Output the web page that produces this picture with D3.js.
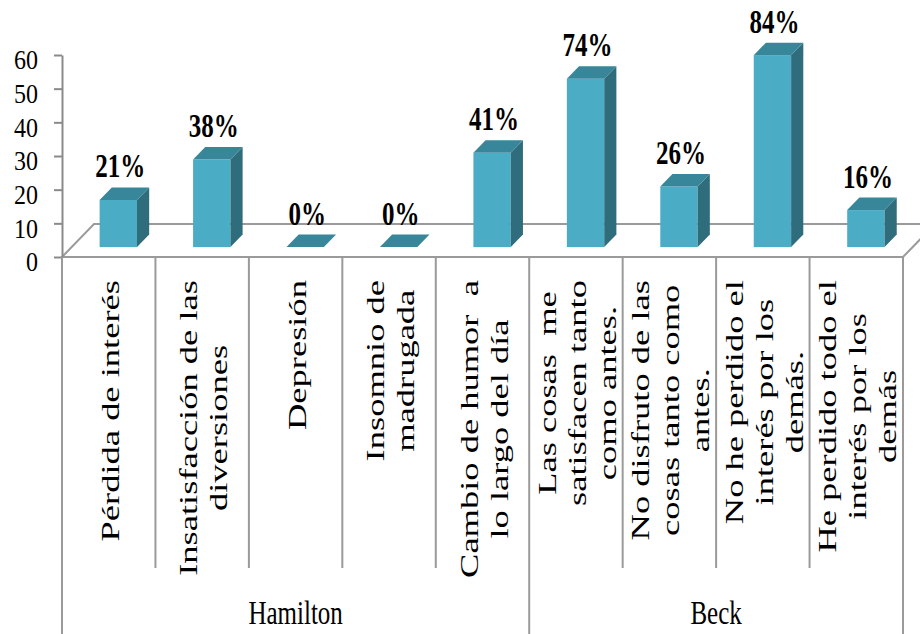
<!DOCTYPE html>
<html>
<head>
<meta charset="utf-8">
<script src="https://cdn.jsdelivr.net/npm/d3@7"></script>
<style>
    body { margin: 0; background: #fff; }
</style>
</head>
<body>
<script>

    // category labels, one array of lines per bar
    var categories = [
        ["Pérdida de interés"],
        ["Insatisfacción de las", "diversiones"],
        ["Depresión"],
        ["Insomnio de", "madrugada"],
        ["Cambio de humor  a", "lo largo del día"],
        ["Las cosas  me", "satisfacen tanto", "como antes."],
        ["No disfruto de las", "cosas tanto como", "antes."],
        ["No he perdido el", "interés por los", "demás."],
        ["He perdido todo el", "interés por los", "demás"]
    ];
    var values = [14, 26, 0, 0, 28, 50, 18, 57, 11];
    var pctLabels = ["21%", "38%", "0%", "0%", "41%", "74%", "26%", "84%", "16%"];
    var groupNames = ["Hamilton", "Beck"];
    var groupStarts = [0, 5];
    var groupEnds = [5, 9];
    var yTicks = [0, 10, 20, 30, 40, 50, 60];

    var width = 920,
        height = 634;
    var left = 62, right = 903, floorY = 257, topY = 55;
    var depth = {x: 32, y: -33};       // floor depth (oblique projection)
    var barFront = 0.3, barBack = 0.68; // bar position inside the floor depth
    var stretch = 1.33;                 // text is drawn tall and narrow
    var serif = '"Liberation Serif", "Times New Roman", serif';

    var svg = d3.select("body").append("svg")
        .attr("width", width)
        .attr("height", height);

    var x = d3.scaleBand()
        .domain(d3.range(categories.length))
        .range([left, right]);

    var y = d3.scaleLinear()
        .domain([0, 60])
        .range([floorY, topY]);

    // floor
    svg.append("polygon")
        .attr("points", [
            [left, floorY], [right, floorY],
            [right + depth.x, floorY + depth.y], [left + depth.x, floorY + depth.y]
        ].join(" "))
        .style("fill", "none")
        .style("stroke", "#9a9a9a")
        .style("stroke-width", 2);

    // separators of the category labels
    svg.append("g").selectAll("line")
        .data(d3.range(categories.length + 1))
        .enter().append("line")
        .attr("x1", function (i) { return i < categories.length ? x(i) : right; })
        .attr("x2", function (i) { return i < categories.length ? x(i) : right; })
        .attr("y1", floorY)
        .attr("y2", function (i) {
            return (groupStarts.indexOf(i) >= 0 || i === categories.length) ? height : 568;
        })
        .style("stroke", "#9a9a9a")
        .style("stroke-width", 2);

    // y axis
    var yAxis = d3.axisLeft(y)
        .tickValues(yTicks)
        .tickSize(8)
        .tickSizeOuter(0)
        .tickPadding(16);

    var ag = svg.append("g")
        .attr("transform", "translate(" + left + ",0)")
        .call(yAxis)
        .attr("font-family", null)
        .attr("font-size", null);
    ag.select(".domain").style("stroke", "#8a8a8a").style("stroke-width", 2);
    ag.selectAll(".tick line").style("stroke", "#8a8a8a").style("stroke-width", 2);
    ag.selectAll(".tick text")
        .style("font-family", serif)
        .style("font-size", "24px")
        .style("fill", "#000")
        .attr("dy", "0.5em")
        .attr("transform", "scale(1,1.15)");

    svg.append("line")
        .attr("x1", left).attr("x2", left)
        .attr("y1", floorY).attr("y2", height)
        .style("stroke", "#9a9a9a")
        .style("stroke-width", 2);

    // bars
    var barW = x.bandwidth() * 0.4;
    var bd = {x: depth.x * (barBack - barFront), y: depth.y * (barBack - barFront)};

    var bars = svg.append("g").selectAll("g")
        .data(values)
        .enter().append("g");

    function geom(v, i) {
        var x0 = x(i) + (x.bandwidth() - barW) / 2 + depth.x * barFront;
        return {
            x0: x0,
            x1: x0 + barW,
            yt: y(v) + depth.y * barFront,
            yb: floorY + depth.y * barFront
        };
    }

    bars.append("rect")
        .attr("x", function (d, i) { return geom(d, i).x0; })
        .attr("y", function (d, i) { return geom(d, i).yt; })
        .attr("width", barW)
        .attr("height", function (d, i) { var g = geom(d, i); return g.yb - g.yt; })
        .style("fill", "#4bacc6");

    bars.append("polygon")
        .attr("points", function (d, i) {
            var g = geom(d, i);
            return [[g.x1, g.yt], [g.x1 + bd.x, g.yt + bd.y], [g.x1 + bd.x, g.yb + bd.y], [g.x1, g.yb]].join(" ");
        })
        .style("fill", "#2f6c7c");

    bars.append("polygon")
        .attr("points", function (d, i) {
            var g = geom(d, i);
            return [[g.x0, g.yt], [g.x1, g.yt], [g.x1 + bd.x, g.yt + bd.y], [g.x0 + bd.x, g.yt + bd.y]].join(" ");
        })
        .style("fill", "#37869a");

    // value labels
    bars.append("text")
        .attr("transform", function (d, i) {
            var g = geom(d, i);
            return "translate(" + ((g.x0 + g.x1) / 2 + 2) + "," + (g.yt + bd.y - 10) + ") scale(1," + stretch + ")";
        })
        .attr("text-anchor", "middle")
        .style("font-family", serif)
        .style("font-size", "25px")
        .style("font-weight", "bold")
        .text(function (d, i) { return pctLabels[i]; });

    // rotated category labels
    var along = 1.46, lineGap = 30, labelTop = 280;
    categories.forEach(function (lines, i) {
        var cx = x(i) + x.bandwidth() / 2;
        var n = lines.length;
        var texts = lines.map(function (t, j) {
            return svg.append("text")
                .attr("text-anchor", "middle")
                .style("font-family", serif)
                .style("font-size", "25px")
                .style("white-space", "pre")
                .text(t);
        });
        var maxLen = d3.max(texts, function (t) { return t.node().getComputedTextLength(); }) * along;
        texts.forEach(function (t, j) {
            var bx = cx + (j - (n - 1) / 2) * lineGap + 10;
            var by = labelTop + maxLen / 2;
            t.attr("transform", "translate(" + bx + "," + by + ") rotate(-90) scale(" + along + ",1)");
        });
    });

    // group labels
    svg.append("g").selectAll("text")
        .data(groupNames)
        .enter().append("text")
        .attr("transform", function (d, i) {
            var cx = (x(groupStarts[i]) + (groupEnds[i] < categories.length ? x(groupEnds[i]) : right)) / 2;
            return "translate(" + cx + ",624) scale(1," + stretch + ")";
        })
        .attr("text-anchor", "middle")
        .style("font-family", serif)
        .style("font-size", "25px")
        .text(function (d) { return d; });

</script>
</body>
</html>
